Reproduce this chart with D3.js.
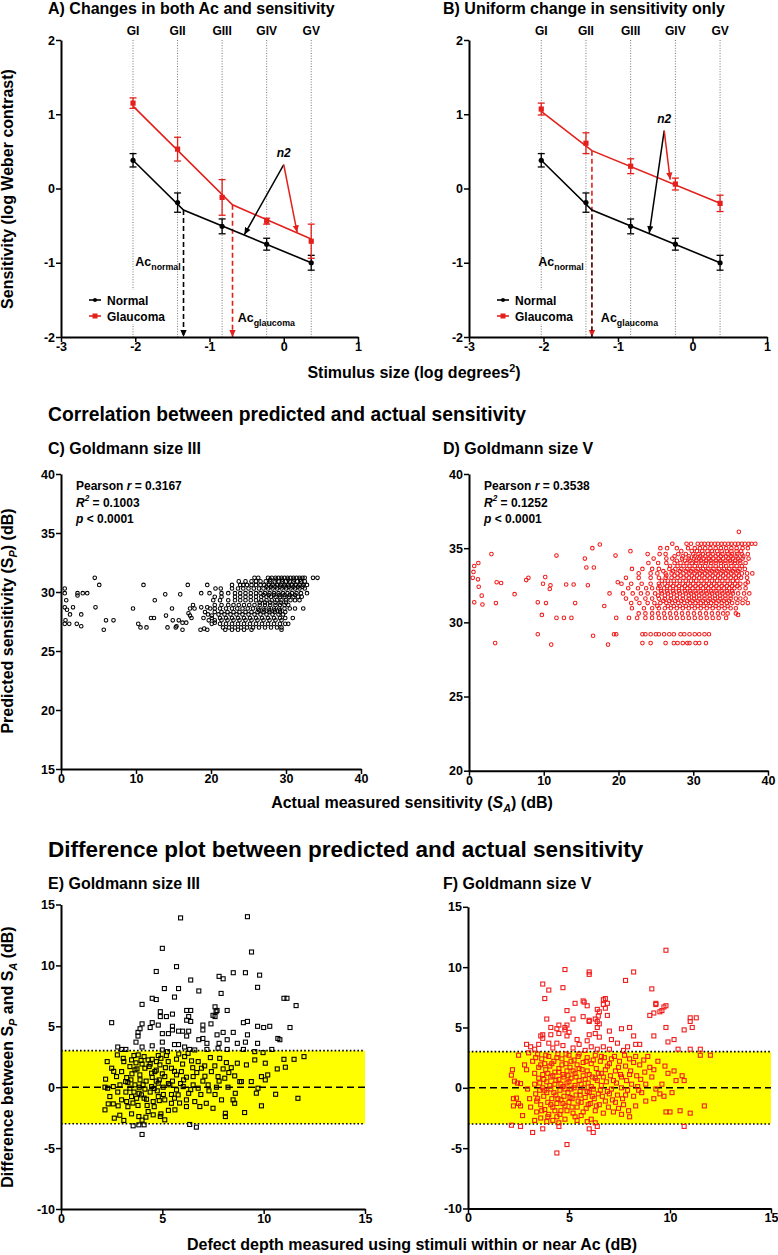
<!DOCTYPE html>
<html>
<head>
<meta charset="utf-8">
<script src="https://cdn.jsdelivr.net/npm/d3@7"></script>
<style>
body{margin:0;background:#fff;}
text{font-family:"Liberation Sans",Arial,Helvetica,sans-serif;font-weight:bold;fill:#000;}
.ax path{stroke:#000;stroke-width:2;}
.ax line{stroke:#000;stroke-width:1.5;}
.ax text{font-size:12.5px;font-family:"Liberation Sans",Arial,sans-serif;font-weight:bold;}
</style>
</head>
<body>
<svg id="fig" width="778" height="1255"></svg>
<script>

// panels A and B: Goldmann sizes
var gSizes = ['GI','GII','GIII','GIV','GV'];
var gLogArea = [-2.03,-1.43,-0.83,-0.23,0.37];
var normalMean = [0.38,-0.19,-0.51,-0.75,-1.0];
var normalErr = [0.09,0.13,0.10,0.08,0.10];
var glaucAMean = [1.15,0.53,-0.12,-0.44,-0.71];
var glaucAErr = [0.07,0.16,0.24,0.04,0.23];
var glaucBMean = [1.07,0.61,0.30,0.06,-0.20];
var glaucBErr = [0.08,0.14,0.10,0.08,0.11];
// two-line fits, [log area, log contrast]
var normalFit = [[-2.03,0.38],[-1.35,-0.29],[0.37,-1.0]];
var glaucAFit = [[-2.03,1.11],[-0.69,-0.22],[0.37,-0.68]];
var glaucBFit = [[-2.03,1.04],[-1.35,0.51],[0.37,-0.20]];
// n2 arrows: apex, black tip, red tip
var n2A = [[0.0,0.32],[-0.53,-0.62],[0.18,-0.59]];
var n2B = [[-0.38,0.78],[-0.58,-0.60],[-0.30,0.12]];

// panel C: Goldmann III, [actual, predicted]
var cSparse = [[0.5,30.3],[0.5,29.9],[0.7,29.3],[0.5,28.7],[0.8,28.5],[1.2,28.1],[0.6,27.6],[0.5,27.3],[1.1,27.3],
[2.2,29.9],[2.9,29.9],[3.5,29.9],[2.2,29.7],[1.6,28.7],[2.7,28.1],[2.1,27.3],[2.7,27.1],[4.5,31.2],[5.1,30.6],
[4.6,28.7],[6.0,27.6],[7.0,27.6],[5.7,26.8],[9.6,28.6],[11.0,30.6],[10.3,27.3],[10.6,27.0],[11.4,27.0],[12.0,27.8],
[12.4,27.8],[12.5,29.3],[13.9,29.8],[14.8,28.6],[14.0,28.0],[14.2,27.0],[15.3,27.0],[15.4,27.1],[15.9,29.8],[16.2,26.8],
[16.9,30.6],[14.9,27.6],[15.7,27.6],[16.2,27.4],[16.7,27.4],[17.0,28.2],[17.2,28.0],[17.4,27.8],[17.2,28.6],[17.8,28.6],
[17.6,28.9],[18.7,29.9],[19.5,30.6],[19.8,29.9],[18.7,28.7],[19.5,28.7],[19.9,28.6],[20.1,28.0],[20.5,27.4],[19.7,27.6],
[18.6,26.8],[19.1,26.9],[19.5,26.8]];
var cRows = [
[31.2,[25.8,26.3,27.6,28.1,28.6,29.0,29.4,29.8,30.2,30.6,31.0,31.4,31.8,32.2,32.5,33.6,34.2]],
[31.05,[27.9,28.7,29.5,30.3,31.1,31.9]],
[30.9,[23.7,24.6,25.4,26.0,26.6,27.3,27.9,28.5,29.0,29.5,30.0,30.5,31.0,31.5,32.0,32.5]],
[30.6,[22.8,23.9,24.3,24.8,25.4,26.0,26.6,27.1,27.7,28.2,28.8,29.3,29.8,30.3,30.8,31.3,31.8,32.3,32.8]],
[30.45,[27.4,28.0,28.6,29.2,29.8,30.4,31.0,31.6,32.2]],
[30.3,[20.6,21.3,22.8,23.6,24.3,25.0,25.7,26.4,27.0,27.6,28.2,28.8,29.4,30.0,30.6,31.2,31.8,32.5]],
[29.9,[21.4,22.3,23.2,23.9,24.6,25.3,26.0,26.6,27.2,27.8,28.4,29.0,29.6,30.2,30.8,31.4,32.0,32.8]],
[29.75,[27.0,27.7,28.4,29.1,29.8,30.5,31.2]],
[29.6,[20.5,21.4,23.2,23.9,24.6,25.3,26.0,26.7,27.4,28.0,28.6,29.2,29.8,30.4,31.0,31.6,32.1]],
[29.3,[20.3,21.2,22.3,23.2,23.9,24.6,25.3,26.0,26.7,27.4,28.1,28.8,29.4,30.0,30.6,31.2,31.8]],
[29.1,[26.5,27.2,27.9,28.6,29.3,30.0]],
[28.9,[20.5,21.4,22.3,23.0,23.7,24.4,25.1,25.8,26.5,27.2,27.9,28.6,29.2,29.8,30.3]],
[28.6,[20.5,21.2,22.0,22.8,23.5,24.2,24.9,25.6,26.3,27.0,27.7,28.4,29.1,29.8,30.5,31.2,32.3]],
[28.45,[26.4,27.1,27.8,28.5,29.2]],
[28.3,[19.2,20.5,21.4,22.2,23.0,23.8,24.6,25.4,26.2,27.0,27.8,28.5,29.2,29.9]],
[28.1,[19.6,21.0,21.8,22.6,23.4,24.2,25.0,25.8,26.6,27.4,28.2,29.0,29.6]],
[27.8,[19.0,20.1,21.2,22.0,22.8,23.6,24.4,25.2,26.0,26.8,27.6,28.4,29.2,29.9,30.9]],
[27.6,[20.5,21.4,22.2,23.0,23.8,24.6,25.4,26.2,27.0,27.8,28.6,29.4]],
[27.3,[20.1,21.2,22.0,22.8,23.6,24.4,25.2,26.0,26.8,27.6,28.4,29.2,29.9,30.3]],
[27.0,[21.6,22.4,23.2,24.0,24.8,25.6,26.4,27.2,28.0,28.8,29.4]],
[26.8,[21.9,22.8,23.6,24.4,25.4,29.4]]];

// panel D: Goldmann V
var dSparse = [[0.6,33.4],[0.5,33.0],[0.7,33.8],[1.25,34.0],[1.2,32.9],[1.3,32.4],[1.7,31.8],[0.7,31.35],[1.8,31.2],
[3.0,34.6],[3.6,31.3],[3.5,28.6],[3.7,32.7],[4.3,32.65],[6.1,31.9],[7.65,32.85],[7.95,33.0],[9.2,31.35],[9.2,29.2],
[9.75,30.5],[10.2,33.05],[9.9,32.6],[10.9,32.5],[10.8,32.25],[10.3,31.3],[11.0,28.5],[11.7,34.5],[11.7,30.3],[12.7,30.3],
[13.7,30.3],[13.0,32.55],[14.0,32.55],[14.2,31.3],[15.5,34.3],[15.7,33.7],[16.7,33.7],[15.9,32.5],[16.5,35.0],[17.5,35.25],
[16.6,29.1],[18.6,28.5],[18.1,31.1],[18.8,31.95],[19.4,29.2],[19.7,29.2],[19.6,34.5],[19.9,32.7],[19.7,30.3],[21.6,34.8],
[36.1,36.1],[37.3,32.7],[36.0,30.5]];
var dRows = [
[35.3,[27.2,29.1,29.7,30.6,31.1,31.5,32.0,32.4,32.9,33.3,33.8,34.2,34.7,35.1,35.6,36.0,36.5,36.9,37.4,37.8,38.3]],
[35.0,[25.6,26.5,27.8,29.3,30.2,30.9,31.6,32.3,33.0,33.7,34.4,35.1,35.8,36.6,37.3]],
[34.8,[28.4,29.8,30.5,31.2,31.9,32.5,33.2,33.8,34.5,35.1,35.8,36.4]],
[34.6,[23.9,25.5,26.3,28.0,29.0,30.0,30.7,31.3,32.0,32.6,33.3,33.9,34.6,35.2,35.9,36.5,37.3]],
[34.45,[27.5,28.6,29.4,30.2,30.9,31.6,32.3,33.0,33.7,34.4,35.1,35.8,36.7]],
[34.3,[24.7,26.4,27.2,28.5,29.4,30.1,30.8,31.4,32.1,32.7,33.4,34.0,34.7,35.3,36.0,36.6,37.4]],
[34.15,[27.8,28.9,29.6,30.4,31.0,31.7,32.3,33.0,33.6,34.3,34.9,35.6,36.2]],
[34.0,[24.0,25.3,26.4,27.5,28.3,29.1,29.8,30.4,31.1,31.7,32.4,33.0,33.7,34.3,35.0,35.6,36.3,37.0]],
[33.8,[26.9,27.9,28.7,29.5,30.2,30.9,31.6,32.3,33.0,33.7,34.4,35.1,35.8,36.5]],
[33.6,[21.8,23.2,24.5,25.4,26.8,27.6,28.4,29.2,29.9,30.6,31.3,32.0,32.7,33.4,34.1,34.8,35.5,36.2,36.9]],
[33.45,[26.0,27.3,28.2,29.0,29.7,30.4,31.1,31.8,32.5,33.2,33.9,34.6,35.3,36.0]],
[33.3,[22.7,24.3,25.2,26.3,27.1,27.9,28.7,29.5,30.2,30.9,31.6,32.3,33.0,33.7,34.4,35.1,35.8,36.5,37.2,37.9]],
[33.15,[26.4,27.5,28.3,29.1,29.8,30.5,31.2,31.9,32.6,33.3,34.0,34.7,35.4,36.1]],
[33.0,[21.0,22.7,24.3,25.4,26.3,27.1,27.9,28.7,29.4,30.1,30.8,31.5,32.2,32.9,33.6,34.3,35.0,35.7,36.4,37.2]],
[32.8,[25.8,26.6,27.4,28.2,29.0,29.7,30.4,31.1,31.8,32.5,33.2,33.9,34.6,35.3,35.9]],
[32.6,[20.4,21.7,23.1,24.3,25.4,26.2,27.0,27.8,28.6,29.3,30.0,30.7,31.4,32.1,32.8,33.5,34.2,34.9,35.6,36.3,37.0]],
[32.45,[25.5,26.5,27.3,28.1,28.9,29.6,30.3,31.0,31.7,32.4,33.1,33.8,34.5,35.2,35.9]],
[32.3,[21.3,22.6,23.7,24.5,25.3,26.1,26.9,27.7,28.5,29.2,29.9,30.6,31.3,32.0,32.7,33.4,34.1,34.8,35.5,36.2,37.0]],
[32.1,[25.7,26.5,27.3,28.1,28.9,29.6,30.3,31.0,31.7,32.4,33.1,33.8,34.5,35.2]],
[31.95,[20.6,21.9,23.0,23.9,24.9,25.8,26.6,27.4,28.2,29.0,29.7,30.4,31.1,31.8,32.5,33.2,33.9,34.6,35.3,36.0,36.8,37.5]],
[31.8,[25.3,26.2,27.0,27.8,28.6,29.4,30.1,30.8,31.5,32.2,32.9,33.6,34.3,35.0]],
[31.6,[21.0,22.4,23.6,24.5,25.4,26.2,27.0,27.8,28.6,29.4,30.1,30.8,31.5,32.2,32.9,33.6,34.3,35.0,35.7,36.3,37.0]],
[31.45,[26.0,26.8,27.6,28.4,29.2,29.9,30.6,31.3,32.0,32.7,33.4,34.1,34.8]],
[31.3,[21.7,22.8,23.9,24.8,25.6,26.4,27.2,28.0,28.8,29.6,30.3,31.0,31.7,32.4,33.1,33.8,34.5,35.2,35.9,36.6,37.3]],
[31.1,[25.2,26.6,27.4,28.2,29.0,29.8,30.6,31.4,32.2,33.0,33.8,34.6]],
[30.95,[21.8,23.4,24.5,25.4,26.2,27.0,27.8,28.6,29.4,30.2,31.0,31.8,32.6,33.4,34.2,35.0,35.7]],
[30.6,[22.7,23.6,24.5,25.3,26.1,26.9,27.7,28.5,29.3,30.1,30.9,31.7,32.5,33.3,34.0,34.6,35.7]],
[30.3,[21.4,22.5,23.6,24.5,25.4,26.2,27.0,27.8,28.6,29.4,30.2,31.0,31.8,32.6,33.4,34.4]],
[29.2,[23.2,23.6,24.3,25.0,25.4,26.1,26.8,27.4,28.3,28.8,29.5,30.2,30.8,31.5,32.1]],
[28.6,[23.2,24.3,26.3,27.4,27.9,28.6,29.2,29.5,30.3,30.8,31.7]]];

// panel E: Goldmann III, [defect depth, difference]
var eAbove = [[5.9,13.9],[9.2,14.0],[5.0,11.4],[9.4,11.1],[4.7,9.5],[5.7,9.9],[6.4,8.8],[7.8,9.1],[8.0,8.9],[8.5,9.4],
[9.1,9.4],[9.8,9.2],[9.7,8.2],[5.1,8.1],[5.8,8.1],[6.8,7.9],[7.9,7.7],[4.5,7.3],[4.7,7.2],[5.6,7.4],[4.0,6.8],[11.0,7.3],
[11.15,7.3],[11.6,6.7],[4.9,6.2],[5.5,6.0],[5.2,5.8],[4.9,5.8],[6.2,6.3],[6.4,6.3],[6.2,5.5],[6.4,5.4],[6.3,5.8],[7.6,6.6],
[7.65,6.2],[7.5,5.9],[7.7,6.3],[7.6,5.8],[7.4,5.2],[8.2,6.3],[2.5,5.3],[4.0,5.2],[4.5,5.3],[4.8,5.1],[4.4,4.9],[3.9,4.8],
[5.5,5.0],[7.0,5.1],[9.0,5.3],[9.2,5.4],[9.7,5.0],[10.0,4.9],[10.3,5.0],[11.3,4.9],[3.8,4.5],[3.8,4.2],[5.0,4.4],[5.3,4.4],
[5.5,4.7],[5.8,4.6],[6.0,4.6],[6.3,4.6],[6.2,4.2],[7.0,4.7],[6.8,3.9],[7.0,4.0],[7.2,3.6],[7.7,4.3],[8.0,4.5],[8.5,4.5],
[7.8,3.6],[8.2,3.9],[8.7,3.6],[9.2,4.3],[9.7,3.6],[9.1,3.7],[10.7,4.0],[10.8,3.9],[10.4,3.1],[2.8,3.3],[3.0,3.1],[3.2,3.1],
[3.7,3.7],[4.0,3.3],[4.5,3.4],[5.0,3.7],[5.6,3.5],[5.8,3.5],[6.1,3.3],[6.35,3.1],[7.2,3.1],[7.75,3.2],[8.2,3.1],[9.0,3.1]];
var eBand = [[5.0,3.06],[5.25,2.92],[6.6,3.06],[9.56,2.92],[9.97,2.84],[2.28,2.1],[2.78,2.65],[3.07,2.37],[3.48,2.24],[3.81,2.65],
[4.1,2.51],[4.3,2.24],[4.5,2.29],[4.71,2.1],[4.93,2.37],[5.29,2.1],[5.81,2.73],[6.1,2.51],[6.27,2.78],[6.44,2.16],[6.77,2.1],
[7.09,1.75],[7.37,2.43],[7.59,1.75],[7.83,2.37],[8.16,2.02],[8.7,1.97],[9.15,1.83],[9.56,2.24],[10.08,1.97],[11.0,2.29],
[11.5,2.29],[11.99,2.51],[10.67,1.5],[11.07,1.64],[2.5,1.56],[2.74,0.87],[2.99,1.28],[3.24,0.79],[3.4,1.69],[3.65,1.42],
[3.89,1.01],[4.14,1.56],[4.47,1.15],[4.63,1.28],[4.88,1.83],[5.12,0.87],[5.45,1.56],[5.7,1.01],[5.94,1.28],[6.19,0.82],
[6.52,0.87],[6.93,1.56],[7.42,1.28],[7.75,0.87],[8.08,0.74],[8.28,1.2],[8.57,0.93],[8.82,0.46],[9.39,0.46],[9.89,0.87],
[10.2,1.01],[10.08,0.6],[2.2,0.66],[2.17,0.0],[2.3,-0.08],[2.58,0.05],[2.91,0.19],[3.19,0.46],[3.4,-0.08],[3.65,0.19],
[3.86,0.0],[4.14,-0.16],[4.47,0.05],[4.8,0.33],[5.04,0.0],[5.37,0.19],[5.7,-0.22],[6.03,0.05],[6.52,0.19],[6.77,-0.08],
[7.26,0.19],[7.67,0.0],[8.24,0.0],[8.9,0.46],[9.64,-0.49],[9.72,-0.08],[2.41,-0.77],[2.33,-1.37],[2.58,-1.37],[2.82,-1.53],
[2.99,-1.04],[3.24,-1.18],[3.48,-0.77],[3.73,-0.91],[3.97,-0.63],[4.22,-0.99],[4.55,-1.18],[4.8,-0.77],[5.12,-1.04],
[5.45,-1.32],[5.78,-0.63],[6.19,-1.04],[6.6,-1.18],[6.85,-1.59],[7.17,-1.32],[7.5,-1.73],[7.92,-1.04],[8.57,-1.32],
[9.06,-2.08],[9.89,-1.53],[10.59,-0.58],[11.69,-0.91],[8.49,-1.04],[2.17,-1.86],[2.63,-2.54],[3.1,-2.73],[3.48,-2.19],
[3.84,-2.41],[4.19,-2.46],[4.55,-2.27],[4.93,-2.19],[5.12,-2.68],[5.62,-1.86],[6.19,-1.59],[8.11,-2.14],[8.11,-2.41],
[3.3,0.4],[3.5,1.1],[3.6,-0.4],[3.7,2.0],[3.8,-1.5],[3.9,0.6],[4.0,1.9],[4.1,-0.9],[4.2,0.5],[4.3,-2.0],[4.35,1.7],[4.4,-0.4],
[4.5,0.8],[4.6,-1.6],[4.7,1.4],[4.75,-0.3],[4.85,0.6],[4.9,-2.4],[5.0,1.1],[5.05,-0.6],[5.2,2.6],[5.3,-1.9],[5.5,0.5],
[5.6,-0.9],[5.9,0.3],[6.0,1.9],[6.3,-0.5],[6.5,1.6],[6.9,-0.6],[7.0,0.5],[7.3,-0.3],[7.8,0.5],[8.4,1.6],[3.1,2.1],[2.9,-2.3],
[3.3,-1.6],[4.0,-2.7],[3.6,2.6],[4.8,2.6],[5.7,2.3],
[3.2,-0.4],[3.45,0.6],[3.55,-1.3],[3.75,1.5],[3.85,-0.5],[3.95,2.2],[4.05,0.2],[4.25,-1.5],[4.4,1.9],[4.6,-0.1],[4.7,0.5],
[4.85,-1.1],[5.15,1.6],[5.3,0.3],[5.45,-0.6],[5.6,1.3],[5.85,-1.3],[6.05,0.6],[6.4,-0.2],[6.7,1.2],[7.1,0.9],[7.6,-0.6],
[8.0,1.5],[8.6,-0.5],[2.6,1.3],[2.8,-0.4]];
var eBelow = [[6.35,-3.06],[6.68,-3.28],[3.56,-3.17],[3.84,-3.09],[4.1,-3.09],[4.0,-3.88]];

// panel F: Goldmann V
var fAbove = [[9.8,11.4],[4.8,9.8],[6.0,9.6],[6.0,9.4],[8.2,9.6],[7.8,8.9],[3.7,8.6],[4.7,8.3],[4.0,8.1],[9.1,8.2],[3.8,7.4],
[5.3,7.0],[5.7,7.2],[5.9,6.8],[6.8,7.4],[6.9,7.0],[6.8,6.6],[9.3,7.0],[9.8,6.8],[9.6,6.4],[4.9,6.4],[6.5,6.3],[5.7,5.9],
[6.0,5.5],[6.3,5.7],[6.9,6.0],[6.4,5.5],[6.5,5.3],[5.2,5.7],[3.9,5.7],[9.0,6.0],[11.0,5.5],[11.3,5.8],[4.1,5.0],[4.4,4.9],
[4.8,5.0],[6.4,5.0],[7.6,4.9],[8.0,5.0],[9.8,5.0],[10.7,4.8],[11.1,5.0],[5.75,7.1],[6.4,6.5],[6.45,5.95],[6.7,7.3],[6.7,6.9],
[4.5,5.2],[4.9,5.2],[3.7,4.4],[3.7,4.1],[4.1,4.4],[4.5,4.5],[4.8,4.8],[5.0,4.6],[4.9,4.3],[6.0,5.6],[6.0,4.4],[6.3,4.5],
[6.5,4.2],[7.0,4.7],[7.1,4.0],[8.2,4.3],[8.5,3.6],[9.2,4.3],[9.2,6.2],[9.7,6.7],[9.3,6.9],[9.5,6.3],[9.9,3.8],[10.2,4.0],
[11.0,5.8],[10.4,3.2],[11.0,3.2],[11.5,3.2],[2.9,3.6],[3.1,3.4],[3.5,3.6],[3.6,4.3],[4.0,3.7],[4.4,3.7],[5.4,4.0],[5.5,3.6],
[5.9,3.9],[6.1,3.4],[6.7,3.4],[7.0,3.2],[7.4,3.7],[7.9,3.4],[8.3,3.6],[3.3,3.2],[4.2,3.3],[4.7,3.5],[5.2,3.3],[5.8,3.1],
[6.4,3.2],[7.7,3.1]];
var fBand = [[2.15,1.05],[2.2,1.5],[2.3,0.55],[2.45,0.4],[2.6,0.35],[2.25,-0.9],[2.25,-1.5],[2.4,-0.85],[2.5,-1.3],[2.6,-1.5],
[2.7,-2.3],[2.5,2.7],[2.8,1.9],[2.9,1.5],[2.95,-0.1],[3.05,-0.9],[3.1,-1.6],[3.2,2.2],[3.3,1.2],[3.3,0.3],[3.35,-0.5],
[3.4,-1.1],[3.4,-2.0],[3.45,2.8],[3.5,1.7],[3.5,0.8],[3.55,-0.2],[3.6,-1.4],[3.6,-2.5],[3.65,2.4],[3.7,1.1],[3.7,0.0],
[3.75,-0.7],[3.8,-1.8],[3.8,2.0],[3.85,1.5],[3.9,0.5],[3.9,-0.4],[3.95,-1.2],[4.0,-2.2],[4.0,2.6],[4.05,1.8],[4.1,0.9],
[4.1,-0.1],[4.15,-0.9],[4.2,-1.6],[4.2,-2.7],[4.25,2.2],[4.3,1.3],[4.3,0.3],[4.35,-0.6],[4.4,-1.3],[4.4,-2.4],[4.45,2.8],
[4.5,1.6],[4.5,0.7],[4.55,-0.2],[4.6,-1.0],[4.6,-1.9],[4.65,2.4],[4.7,1.1],[4.7,0.1],[4.75,-0.7],[4.8,-1.5],[4.8,-2.6],
[4.85,2.0],[4.9,1.4],[4.9,0.4],[4.95,-0.4],[5.0,-1.2],[5.0,2.7],[5.05,1.7],[5.1,0.8],[5.1,-0.1],[5.15,-0.9],[5.2,-2.1],
[5.25,2.3],[5.3,1.2],[5.3,0.2],[5.35,-0.6],[5.4,-1.6],[5.45,2.6],[5.5,1.6],[5.5,0.6],[5.55,-0.3],[5.6,-1.2],[5.6,-2.3],
[5.7,2.1],[5.7,1.0],[5.75,0.0],[5.8,-0.8],[5.85,-1.7],[5.9,2.5],[5.9,1.4],[5.95,0.4],[6.0,-0.4],[6.05,-1.3],[6.1,-2.6],
[6.1,2.0],[6.15,0.9],[6.2,-0.1],[6.25,-0.9],[6.3,-1.9],[6.3,2.7],[6.35,1.6],[6.4,0.6],[6.45,-0.5],[6.5,-1.4],[6.55,2.2],
[6.6,1.2],[6.6,0.2],[6.65,-0.7],[6.7,-2.1],[6.75,2.5],[6.8,1.5],[6.85,0.5],[6.9,-0.3],[6.95,-1.6],[7.0,2.0],[7.05,1.0],
[7.1,-0.1],[7.15,-1.0],[7.2,-2.0],[7.25,2.6],[7.3,1.4],[7.35,0.4],[7.4,-0.6],[7.45,-1.7],[7.5,2.2],[7.55,1.1],[7.6,0.0],
[7.65,-0.9],[7.7,-1.4],[7.75,2.7],[7.8,1.8],[7.85,0.6],[7.9,-0.2],[7.95,-1.9],[8.0,2.4],[8.05,1.4],[8.1,0.3],[8.2,-0.7],
[8.3,2.6],[8.35,1.0],[8.4,0.1],[8.5,1.9],[8.55,0.7],[8.6,-0.4],[8.7,2.3],[8.75,1.3],[8.8,0.3],[8.9,2.6],[9.0,1.7],[9.1,0.9],
[9.2,1.5],[9.3,-0.1],[9.4,2.2],[9.5,-0.5],[9.6,0.3],[9.7,-0.7],[9.75,1.8],[9.8,-2.0],[9.9,1.2],[10.0,-2.0],[10.1,-0.4],
[10.2,1.4],[10.3,0.6],[10.5,-1.9],[10.6,1.0],[10.7,0.6],[11.0,-2.1],[11.5,2.7],[11.7,-1.5],[12.0,2.7],[3.0,2.9],[3.3,-2.7],
[3.9,-2.8],[4.5,-2.9],[5.4,-2.7],[5.9,-2.8],[6.3,-2.9],[7.6,-2.2],[8.3,-1.5],[8.8,-1.1],[9.2,-0.9],[8.0,-2.4],
[3.35,2.5],[3.45,-0.9],[3.55,0.4],[3.6,1.9],[3.65,-1.9],[3.75,0.7],[3.8,-0.2],[3.85,2.7],[3.95,1.2],[3.95,-2.4],[4.05,0.2],
[4.1,-1.4],[4.15,2.0],[4.2,1.0],[4.25,-0.4],[4.3,-1.9],[4.35,0.6],[4.4,2.5],[4.45,-0.9],[4.5,1.3],[4.55,-2.2],[4.6,0.3],
[4.65,1.9],[4.7,-1.3],[4.75,0.9],[4.8,-0.1],[4.85,2.8],[4.9,-1.9],[4.95,1.0],[5.0,0.5],[5.05,-0.8],[5.1,2.2],[5.15,-1.6],
[5.2,1.4],[5.25,0.0],[5.3,-2.4],[5.35,0.9],[5.4,1.9],[5.45,-1.1],[5.5,2.8],[5.55,-0.6],[5.6,0.3],[5.65,1.5],[5.7,-2.0],
[5.8,0.7],[5.85,2.2],[5.9,-0.3],[5.95,-1.4],[6.0,1.1],[6.1,0.1],[6.15,-0.7],[6.2,2.3],[6.3,0.8],[6.35,-1.5],[6.45,1.2],
[6.55,-0.2],[6.6,2.6],[6.7,0.9],[6.8,-1.1],[6.9,1.8],[7.0,-0.5],[7.1,2.4],[7.2,0.6],[7.3,-1.2],[7.45,1.7],[7.6,0.9],
[7.8,-0.6],[8.0,1.1],[8.2,2.1],[8.45,-0.2]];
var fBelow = [[2.15,-3.1],[2.6,-3.2],[3.2,-3.7],[3.7,-3.4],[4.5,-3.2],[4.4,-5.4],[4.9,-4.7],[6.0,-3.4],[6.2,-3.7],[6.4,-3.2],[10.7,-3.2]];

var RED = '#e3201b';
var SRED = '#f21c1c';
var svg = d3.select('#fig');

var defs = svg.append('defs');
[['arrK','#000'],['arrR',RED]].forEach(function(a){
  defs.append('marker').attr('id',a[0]).attr('viewBox','0 0 10 10')
    .attr('refX',10).attr('refY',5).attr('markerWidth',7).attr('markerHeight',7)
    .attr('markerUnits','userSpaceOnUse').attr('orient','auto')
    .append('path').attr('d','M0,0.5L10,5L0,9.5Z').attr('fill',a[1]);
});

// text with italic / sub / superscript parts
function rich(sel, parts, size){
  var shift = 0;
  parts.forEach(function(p){
    var s = p.sub ? 4 : (p.sup ? -6 : 0);
    var t = sel.append('tspan').text(p.t).attr('dy', s - shift);
    if (s !== 0) t.attr('font-size', size*0.68);
    if (p.i) t.attr('font-style','italic');
    shift = s;
  });
  return sel;
}

function drawAxes(x, y, xVals, yVals){
  svg.append('g').attr('class','ax')
    .attr('transform','translate(0,'+y.range()[0]+')')
    .call(d3.axisBottom(x).tickValues(xVals).tickSize(5).tickSizeOuter(0).tickPadding(0).tickFormat(function(d){return ''+d;}));
  svg.append('g').attr('class','ax')
    .attr('transform','translate('+x.range()[0]+',0)')
    .call(d3.axisLeft(y).tickValues(yVals).tickSize(5).tickSizeOuter(0).tickPadding(1).tickFormat(function(d){return ''+d;}));
}

function sizePanel(left, right, title, titleX, glMean, glErr, glFit, n2, acNPos, acGPos, overlap){
  var x = d3.scaleLinear().domain([-3,1]).range([left,right]);
  var y = d3.scaleLinear().domain([-2,2]).range([337,40]);
  var g = svg.append('g');

  g.append('text').attr('x',titleX).attr('y',14).attr('font-size',16).text(title);

  g.selectAll('line.gl').data(gLogArea).enter().append('line')
    .attr('x1',function(d){return x(d);}).attr('x2',function(d){return x(d);})
    .attr('y1',y(2)).attr('y2',y(-2))
    .attr('stroke','#777').attr('stroke-width',1).attr('stroke-dasharray','1,1.6');
  g.selectAll('text.gs').data(gSizes).enter().append('text')
    .attr('x',function(d,i){return x(gLogArea[i]);}).attr('y',35)
    .attr('text-anchor','middle').attr('font-size',12).text(function(d){return d;});

  // legend box hides grid lines
  g.append('rect').attr('x',left+24).attr('y',290).attr('width',88).attr('height',34).attr('fill','#fff');

  // Ac dashed arrows
  var breakN = normalFit[1], breakG = glFit[1];
  g.append('line').attr('x1',x(breakG[0])).attr('x2',x(breakG[0])).attr('y1',y(breakG[1])).attr('y2',y(-2))
    .attr('stroke',RED).attr('stroke-width',1.6).attr('stroke-dasharray','5,3').attr('marker-end','url(#arrR)');
  var kd = g.append('line').attr('x1',x(breakN[0])).attr('x2',x(breakN[0])).attr('y1',y(breakN[1])).attr('y2',y(-2))
    .attr('stroke','#000').attr('stroke-width',1.6).attr('stroke-dasharray','5,3');
  if (overlap) kd.attr('stroke-dashoffset',4).attr('stroke-width',1);
  else kd.attr('marker-end','url(#arrK)');

  var line = d3.line().x(function(d){return x(d[0]);}).y(function(d){return y(d[1]);});
  g.append('path').datum(normalFit).attr('d',line).attr('fill','none').attr('stroke','#000').attr('stroke-width',1.6);
  g.append('path').datum(glFit).attr('d',line).attr('fill','none').attr('stroke',RED).attr('stroke-width',1.6);

  function errBars(mean, err, col){
    var eb = g.selectAll(null).data(mean).enter().append('g')
      .attr('transform',function(d,i){return 'translate('+x(gLogArea[i])+',0)';});
    eb.append('line').attr('y1',function(d,i){return y(d+err[i]);}).attr('y2',function(d,i){return y(d-err[i]);})
      .attr('stroke',col).attr('stroke-width',1.3);
    eb.append('line').attr('x1',-3.5).attr('x2',3.5).attr('y1',function(d,i){return y(d+err[i]);}).attr('y2',function(d,i){return y(d+err[i]);})
      .attr('stroke',col).attr('stroke-width',1.3);
    eb.append('line').attr('x1',-3.5).attr('x2',3.5).attr('y1',function(d,i){return y(d-err[i]);}).attr('y2',function(d,i){return y(d-err[i]);})
      .attr('stroke',col).attr('stroke-width',1.3);
    return eb;
  }
  errBars(normalMean, normalErr, '#000').append('circle').attr('cy',function(d){return y(d);}).attr('r',2.6).attr('fill','#000');
  errBars(glMean, glErr, RED).append('rect').attr('x',-2.6).attr('y',function(d){return y(d)-2.6;})
    .attr('width',5.2).attr('height',5.2).attr('fill',RED);

  // n2 arrows
  g.append('line').attr('x1',x(n2[0][0])).attr('y1',y(n2[0][1])).attr('x2',x(n2[1][0])).attr('y2',y(n2[1][1]))
    .attr('stroke','#000').attr('stroke-width',1.5).attr('marker-end','url(#arrK)');
  g.append('line').attr('x1',x(n2[0][0])).attr('y1',y(n2[0][1])).attr('x2',x(n2[2][0])).attr('y2',y(n2[2][1]))
    .attr('stroke',RED).attr('stroke-width',1.5).attr('marker-end','url(#arrR)');
  g.append('text').attr('x',x(n2[0][0])).attr('y',y(n2[0][1])-8).attr('text-anchor','middle')
    .attr('font-size',12).attr('font-style','italic').text('n2');

  rich(g.append('text').attr('x',x(acNPos[0])).attr('y',y(acNPos[1])).attr('font-size',12.5),
    [{t:'Ac'},{t:'normal',sub:true}], 13);
  rich(g.append('text').attr('x',x(acGPos[0])).attr('y',y(acGPos[1])).attr('font-size',12.5),
    [{t:'Ac'},{t:'glaucoma',sub:true}], 13);

  // legend
  var lg = g.append('g').attr('transform','translate('+(left+28)+',300)');
  lg.append('line').attr('x1',0).attr('x2',12).attr('stroke','#000').attr('stroke-width',1.6);
  lg.append('circle').attr('cx',6).attr('r',2).attr('fill','#000');
  lg.append('text').attr('x',18).attr('y',4.5).attr('font-size',12).text('Normal');
  lg.append('line').attr('x1',0).attr('x2',12).attr('y1',16).attr('y2',16).attr('stroke',RED).attr('stroke-width',1.6);
  lg.append('rect').attr('x',3.5).attr('y',13.5).attr('width',5).attr('height',5).attr('fill',RED);
  lg.append('text').attr('x',18).attr('y',20.5).attr('font-size',12).text('Glaucoma');

  drawAxes(x, y, [-3,-2,-1,0,1], [-2,-1,0,1,2]);
}

sizePanel(61, 358, 'A) Changes in both Ac and sensitivity', 48, glaucAMean, glaucAErr, glaucAFit, n2A,
  [-2.0,-1.05], [-0.62,-1.8], false);
sizePanel(469, 767, 'B) Uniform change in sensitivity only', 443, glaucBMean, glaucBErr, glaucBFit, n2B,
  [-2.07,-1.05], [-1.23,-1.8], true);

// shared axis titles, top row
svg.append('text').attr('transform','translate(13,189) rotate(-90)').attr('text-anchor','middle')
  .attr('font-size',16).text('Sensitivity (log Weber contrast)');
rich(svg.append('text').attr('x',414).attr('y',378).attr('text-anchor','middle').attr('font-size',16),
  [{t:'Stimulus size (log degrees'},{t:'2',sup:true},{t:')'}], 16);

// middle row
svg.append('text').attr('x',48).attr('y',421).attr('font-size',19.3).text('Correlation between predicted and actual sensitivity');

function corrPanel(left, right, yBot, yDom, yVals, sparse, rows, col, stats, title, titleX){
  var x = d3.scaleLinear().domain([0,40]).range([left,right]);
  var y = d3.scaleLinear().domain(yDom).range([yBot,474]);
  var pts = sparse.concat(d3.merge(rows.map(function(r){return r[1].map(function(v){return [v,r[0]];});})));
  svg.append('text').attr('x',titleX).attr('y',454).attr('font-size',16).text(title);
  svg.append('g').selectAll('circle').data(pts).enter().append('circle')
    .attr('cx',function(d){return x(d[0]);}).attr('cy',function(d){return y(d[1]);})
    .attr('r',1.8).attr('fill','none').attr('stroke',col).attr('stroke-width',1.05);
  var st = svg.append('g').attr('transform','translate('+(left+15)+',490)');
  rich(st.append('text').attr('font-size',12), [{t:'Pearson '},{t:'r',i:true},{t:' = '+stats[0]}], 12);
  rich(st.append('text').attr('y',17).attr('font-size',12), [{t:'R',i:true},{t:'2',sup:true,i:true},{t:' = '+stats[1]}], 12);
  rich(st.append('text').attr('y',33).attr('font-size',12), [{t:'p',i:true},{t:' < '+stats[2]}], 12);
  drawAxes(x, y, [0,10,20,30,40], yVals);
}
var statsC = ['0.3167','0.1003','0.0001'];
var statsD = ['0.3538','0.1252','0.0001'];
corrPanel(61, 361, 769, [15,40], [15,20,25,30,35,40], cSparse, cRows, '#000', statsC, 'C) Goldmann size III', 48);
corrPanel(469, 768, 770.7, [20,40], [20,25,30,35,40], dSparse, dRows, SRED, statsD, 'D) Goldmann size V', 443);

rich(svg.append('text').attr('transform','translate(13,621) rotate(-90)').attr('text-anchor','middle').attr('font-size',16),
  [{t:'Predicted sensitivity (S'},{t:'P',sub:true,i:true},{t:') (dB)'}], 16);
rich(svg.append('text').attr('x',412).attr('y',808).attr('text-anchor','middle').attr('font-size',16),
  [{t:'Actual measured sensitivity ('},{t:'S',i:true},{t:'A',sub:true,i:true},{t:') (dB)'}], 16);

// bottom row
svg.append('text').attr('x',48).attr('y',857).attr('font-size',22.5).text('Difference plot between predicted and actual sensitivity');

function diffPanel(left, right, yTop, yBot, pts, col, title, titleX){
  var x = d3.scaleLinear().domain([0,15]).range([left,right]);
  var y = d3.scaleLinear().domain([-10,15]).range([yBot,yTop]);
  svg.append('text').attr('x',titleX).attr('y',889).attr('font-size',16).text(title);
  svg.append('rect').attr('x',x(0)).attr('y',y(3)).attr('width',x(15)-x(0)).attr('height',y(-3)-y(3)).attr('fill','#ffff00');
  [3,-3].forEach(function(v){
    svg.append('line').attr('x1',x(0)).attr('x2',x(15)).attr('y1',y(v)).attr('y2',y(v))
      .attr('stroke','#000').attr('stroke-width',1.6).attr('stroke-dasharray','1.6,2.2');
  });
  svg.append('line').attr('x1',x(0)).attr('x2',x(15)).attr('y1',y(0)).attr('y2',y(0))
    .attr('stroke','#000').attr('stroke-width',1.6).attr('stroke-dasharray','7,4');
  svg.append('g').selectAll('rect').data(pts).enter().append('rect')
    .attr('x',function(d){return x(d[0])-2;}).attr('y',function(d){return y(d[1])-2;})
    .attr('width',4).attr('height',4).attr('fill','none').attr('stroke',col).attr('stroke-width',1.1);
  drawAxes(x, y, [0,5,10,15], [-10,-5,0,5,10,15]);
}
diffPanel(61, 365, 904.5, 1209, eAbove.concat(eBand, eBelow), '#000', 'E) Goldmann size III', 48);
diffPanel(468, 771, 906.8, 1208.5, fAbove.concat(fBand, fBelow), SRED, 'F) Goldmann size V', 443);

rich(svg.append('text').attr('transform','translate(13,1057) rotate(-90)').attr('text-anchor','middle').attr('font-size',16),
  [{t:'Difference between S'},{t:'P',sub:true,i:true},{t:' and S'},{t:'A',sub:true,i:true},{t:' (dB)'}], 16);
svg.append('text').attr('x',412).attr('y',1250).attr('text-anchor','middle').attr('font-size',16)
  .text('Defect depth measured using stimuli within or near Ac (dB)');

</script>
</body>
</html>
